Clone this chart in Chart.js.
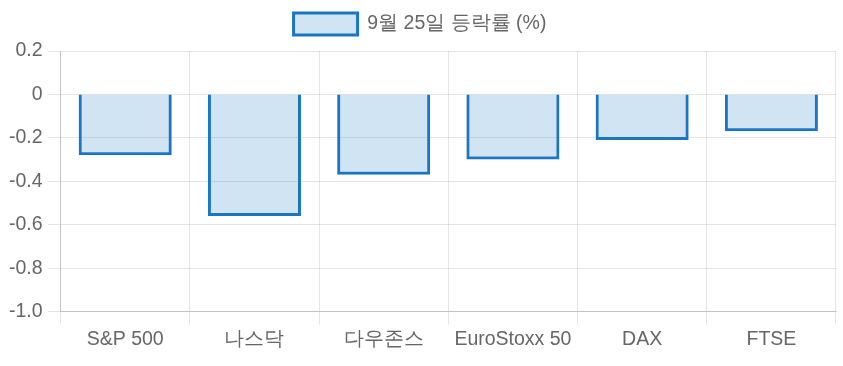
<!DOCTYPE html>
<html>
<head>
<meta charset="utf-8">
<script src="https://cdn.jsdelivr.net/npm/chart.js@4"></script>
<style>
  body { margin: 0; background: #fff; }
  #wrap { width: 843px; height: 366px; }
</style>
</head>
<body>
<div id="wrap"><canvas id="myChart" width="843" height="366"></canvas></div>
<script>
// datos
const labels = ['S&P 500', '나스닥', '다우존스', 'EuroStoxx 50', 'DAX', 'FTSE'];
const seriesName = '9월 25일 등락률 (%)';
const values = [-0.28, -0.56, -0.37, -0.30, -0.21, -0.17];
const yMin = -1.0;
const yMax = 0.2;
const yStep = 0.2;

Chart.defaults.font.family = '"Liberation Sans", Arial, sans-serif';
Chart.defaults.font.size = 19.5;
Chart.defaults.color = '#666';

// un poco mas de espacio debajo de la leyenda
const legendMargin = {
  id: 'legendMargin',
  beforeInit(chart) {
    const fit = chart.legend.fit;
    chart.legend.fit = function () {
      fit.bind(chart.legend)();
      this.height += 6;
    };
  }
};

const ctx = document.getElementById('myChart');
new Chart(ctx, {
  type: 'bar',
  data: {
    labels: labels,
    datasets: [{
      label: seriesName,
      data: values,
      backgroundColor: 'rgba(26, 118, 196, 0.2)',
      borderColor: 'rgb(26, 118, 196)',
      borderWidth: 3
    }]
  },
  options: {
    responsive: false,
    animation: false,
    layout: { padding: { left: 4, right: 7, top: 1, bottom: 12 } },
    plugins: {
      legend: {
        labels: { boxWidth: 64, boxHeight: 22, padding: 12 }
      },
      tooltip: { enabled: false }
    },
    scales: {
      x: {
        grid: { color: 'rgba(0,0,0,0.1)', tickLength: 13, offset: true },
        border: { color: 'rgba(0,0,0,0.15)' }
      },
      y: {
        min: yMin,
        max: yMax,
        ticks: {
          stepSize: yStep,
          padding: 5,
          // evita el "-0.0" por el redondeo
          callback: function (v) {
            const r = Math.round(v * 10) / 10;
            return r === 0 ? '0' : r.toFixed(1);
          }
        },
        grid: { color: 'rgba(0,0,0,0.1)', tickLength: 13 },
        border: { color: 'rgba(0,0,0,0.15)' }
      }
    }
  },
  plugins: [legendMargin]
});
</script>
</body>
</html>
